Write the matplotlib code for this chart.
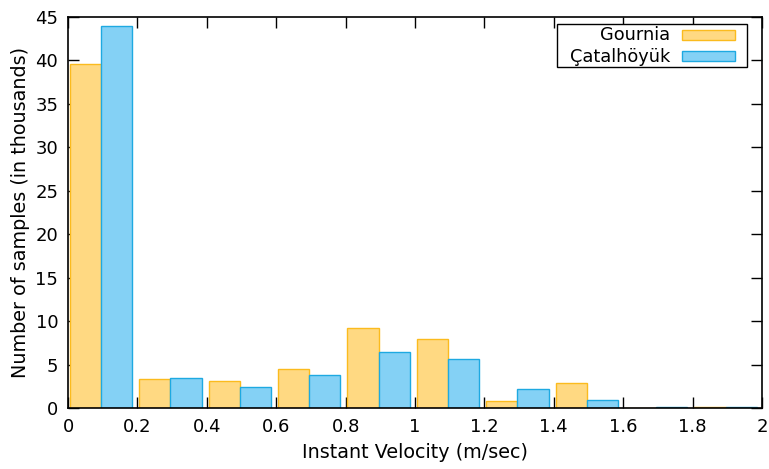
import matplotlib
matplotlib.use("Agg")
import matplotlib.pyplot as plt
from matplotlib.patches import Rectangle
import numpy as np

bins = [0.0, 0.2, 0.4, 0.6, 0.8, 1.0, 1.2, 1.4, 1.6, 1.8]
gournia = [39.6, 3.3, 3.1, 4.45, 9.2, 7.9, 0.85, 2.85, 0.05, 0.15]
catal = [44.0, 3.5, 2.4, 3.75, 6.5, 5.65, 2.15, 0.9, 0.15, 0.1]
series_names = ['Gournia', 'Çatalhöyük']
xticks = [0, 0.2, 0.4, 0.6, 0.8, 1, 1.2, 1.4, 1.6, 1.8, 2]
xticklabels = ["0", "0.2", "0.4", "0.6", "0.8", "1", "1.2", "1.4", "1.6", "1.8", "2"]
yticks = [0, 5, 10, 15, 20, 25, 30, 35, 40, 45]

fills = ['#ffd982', '#84d1f5']
edges = ['#fbbb1e', '#1ea9e1']

plt.rcParams['font.family'] = ['DejaVu Sans']
W, H = 769, 469
fig = plt.figure(figsize=(W/100, H/100), dpi=100)
ax = fig.add_axes([68/W, 1-408/H, (762-68)/W, (408-17)/H])

w = 0.09
b = np.array(bins)
ax.bar(b + 0.05, gournia, width=w, color=fills[0], edgecolor=edges[0], linewidth=1.0, zorder=2)
ax.bar(b + 0.14, catal, width=w, color=fills[1], edgecolor=edges[1], linewidth=1.0, zorder=2)

ax.set_xlim(0, 2)
ax.set_ylim(0, 45)
ax.set_xticks(xticks)
ax.set_xticklabels(xticklabels)
ax.set_yticks(yticks)
ax.tick_params(direction='in', length=8, width=1, top=True, right=True, labelsize=13, pad=7)
for s in ax.spines.values():
    s.set_linewidth(1.2)
    s.set_zorder(3)
ax.set_xlabel('Instant Velocity (m/sec)', fontsize=13.8, labelpad=5)
ax.set_ylabel('Number of samples (in thousands)', fontsize=13.8, labelpad=4)

# gnuplot-style key (manual, in pixel coordinates)
def px(x, y):
    return (x / W, 1 - y / H)

fig.patches.append(Rectangle(px(557, 67), 190/W, 43/H, transform=fig.transFigure,
                             facecolor='white', edgecolor='black', linewidth=1.0, zorder=10))
rows_y = [35.5, 56.5]
for name, fc, ec, yc in zip(series_names, fills, edges, rows_y):
    fig.text(670/W, 1 - yc/H, name, ha='right', va='center', fontsize=12.8, zorder=11)
    fig.patches.append(Rectangle(px(682, yc + 5), 53/W, 10/H, transform=fig.transFigure,
                                 facecolor=fc, edgecolor=ec, linewidth=1.0, zorder=11))

fig.savefig('out.png', dpi=100)
